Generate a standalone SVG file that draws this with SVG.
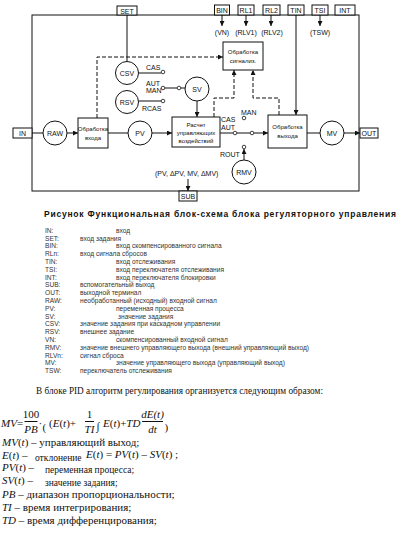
<svg xmlns="http://www.w3.org/2000/svg" width="410" height="534" viewBox="0 0 410 534">
<defs>
<marker id="ah" viewBox="0 0 10 10" refX="10" refY="5" markerWidth="5" markerHeight="5" orient="auto" markerUnits="userSpaceOnUse">
<path d="M0,0 L10,5 L0,10 z" fill="#111"/>
</marker>
<style>
.ln{fill:none;stroke:#111;stroke-width:1}
.ds{fill:none;stroke:#111;stroke-width:1;stroke-dasharray:4 2}
.bx{fill:#fff;stroke:#111;stroke-width:1}
.ct{fill:#fff;stroke:#111;stroke-width:0.8}
.t{font-family:"Liberation Sans",Arial,sans-serif;font-size:7px;fill:#111}
.tc{font-family:"Liberation Sans",Arial,sans-serif;font-size:7px;fill:#111;text-anchor:middle}
.tb{font-family:"Liberation Sans",Arial,sans-serif;font-size:6px;fill:#111;text-anchor:middle}
.cap{font-family:"Liberation Sans",Arial,sans-serif;font-size:8.5px;font-weight:bold;fill:#111}
.lg{font-family:"Liberation Sans",Arial,sans-serif;font-size:6.6px;fill:#333}
.sf{font-family:"Liberation Serif","Times New Roman",serif;font-size:11px;fill:#111}
.ss{font-family:"Liberation Serif","Times New Roman",serif;font-size:9.5px;fill:#111}
.it{font-style:italic}
</style>
</defs>
<rect width="410" height="534" fill="#fff"/>

<g id="frame"><rect x="32" y="15" width="327" height="176" class="ln"/></g>

<g id="connectors">
<path class="ln" d="M127,15 V61.5"/>
<path class="ln" d="M222,15 V26" marker-end="url(#ah)"/>
<path class="ln" d="M246,15 V26" marker-end="url(#ah)"/>
<path class="ln" d="M271,15 V26" marker-end="url(#ah)"/>
<path class="ln" d="M320,15 V26" marker-end="url(#ah)"/>
<path class="ln" d="M296,15 V115" marker-end="url(#ah)"/>
<path class="ds" d="M97,118 V57 H223" marker-end="url(#ah)"/>
<path class="ds" d="M214,117 V98 H234 V70" marker-end="url(#ah)"/>
<path class="ds" d="M279,115 V98 H253 V70" marker-end="url(#ah)"/>
<path class="ln" d="M138.5,73 H161.2"/>
<path class="ln" d="M138.5,101 H161.2"/>
<path class="ln" d="M164.8,88 H177.2 M180.8,88 H185"/>
<path class="ln" d="M197,101 V117" marker-end="url(#ah)"/>
<path class="ln" d="M32,133 H43"/>
<path class="ln" d="M67,133 H78" marker-end="url(#ah)"/>
<path class="ln" d="M108,133 H128"/>
<path class="ln" d="M152,133 H172" marker-end="url(#ah)"/>
<path class="ln" d="M220,133 H233.2 M236.8,133 H250.2"/>
<path class="ln" d="M253.8,133 H268" marker-end="url(#ah)"/>
<path class="ln" d="M244,160 V149" marker-end="url(#ah)"/>
<path class="ln" d="M307,133 H320"/>
<path class="ln" d="M344,133 H360" marker-end="url(#ah)"/>
<path class="ln" d="M188,179 V191" marker-end="url(#ah)"/>
<circle class="ct" cx="163" cy="72" r="1.8"/>
<circle class="ct" cx="163" cy="88" r="1.8"/>
<circle class="ct" cx="163" cy="101" r="1.8"/>
<circle class="ct" cx="179" cy="88" r="1.8"/>
<circle class="ct" cx="235" cy="133" r="1.8"/>
<circle class="ct" cx="252" cy="133" r="1.8"/>
<circle class="ct" cx="244" cy="118" r="1.8"/>
<circle class="ct" cx="244" cy="147" r="1.8"/>
</g>

<g id="terminals">
<g id="SET"><rect class="bx" x="117" y="6" width="20" height="9"/><text class="tc" x="127" y="13.5">SET</text></g>
<g id="BIN"><rect class="bx" x="214.5" y="5" width="15" height="10"/><text class="tc" x="222" y="13">BIN</text></g>
<g id="RL1"><rect class="bx" x="238" y="5" width="16" height="10"/><text class="tc" x="246" y="13">RL1</text></g>
<g id="RL2"><rect class="bx" x="263" y="5" width="17" height="10"/><text class="tc" x="271.5" y="13">RL2</text></g>
<g id="TIN"><rect class="bx" x="288" y="5" width="16" height="10"/><text class="tc" x="296" y="13">TIN</text></g>
<g id="TSI"><rect class="bx" x="312" y="5" width="16" height="10"/><text class="tc" x="320" y="13">TSI</text></g>
<g id="INT"><rect class="bx" x="335" y="5" width="20" height="10"/><text class="tc" x="345" y="13">INT</text></g>
<g id="IN"><rect class="bx" x="13" y="128" width="19" height="10"/><text class="tc" x="22.5" y="136">IN</text></g>
<g id="OUT"><rect class="bx" x="360" y="128" width="18" height="10"/><text class="tc" x="369" y="136">OUT</text></g>
<g id="SUB"><rect class="bx" x="179" y="191" width="18" height="10"/><text class="tc" x="188" y="199">SUB</text></g>
</g>

<g id="sig-labels">
<text class="tc" x="222" y="35">(VN)</text>
<text class="tc" x="246" y="35">(RLV1)</text>
<text class="tc" x="272" y="35">(RLV2)</text>
<text class="tc" x="320" y="35">(TSW)</text>
<text class="t" x="146" y="70">CAS</text>
<text class="t" x="146" y="85.5">AUT</text>
<text class="t" x="146" y="92.5">MAN</text>
<text class="t" x="142" y="111">RCAS</text>
<text class="t" x="221" y="122">CAS</text>
<text class="t" x="221" y="130">AUT</text>
<text class="t" x="241" y="115">MAN</text>
<text class="t" x="220" y="157">ROUT</text>
<text class="t" x="155" y="176" font-size="6.6">(PV, ΔPV, MV, ΔMV)</text>
</g>

<g id="csv"><circle class="bx" cx="127" cy="73" r="11.5"/><text class="tc" x="127" y="75.5">CSV</text></g>
<g id="rsv"><circle class="bx" cx="127" cy="102" r="11.5"/><text class="tc" x="127" y="104.5">RSV</text></g>
<g id="sv"><circle class="bx" cx="197" cy="89" r="12"/><text class="tc" x="197" y="91.5">SV</text></g>
<g id="raw"><circle class="bx" cx="55" cy="133" r="12"/><text class="tc" x="55" y="135.5">RAW</text></g>
<g id="pv"><circle class="bx" cx="140" cy="133" r="12"/><text class="tc" x="140" y="135.5">PV</text></g>
<g id="mv"><circle class="bx" cx="332" cy="133" r="12"/><text class="tc" x="332" y="135.5">MV</text></g>
<g id="rmv"><circle class="bx" cx="244" cy="172" r="12"/><text class="tc" x="244" y="174.5">RMV</text></g>

<g id="alarm"><rect class="bx" x="223" y="42" width="40" height="28"/><text class="tb" x="243" y="54">Обработка</text><text class="tb" x="243" y="63">сигнализ.</text></g>
<g id="inproc"><rect class="bx" x="78" y="118" width="30" height="30"/><text class="tb" x="93" y="131">Обработка</text><text class="tb" x="93" y="140">входа</text></g>
<g id="calc"><rect class="bx" x="172" y="117" width="48" height="30"/><text class="tb" x="196" y="127">Расчет</text><text class="tb" x="196" y="135">управляющих</text><text class="tb" x="196" y="143">воздействий</text></g>
<g id="outproc"><rect class="bx" x="268" y="115" width="39" height="33"/><text class="tb" x="287.5" y="129">Обработка</text><text class="tb" x="287.5" y="138">выхода</text></g>

<text class="cap" x="44" y="217" textLength="352" lengthAdjust="spacing">Рисунок   Функциональная блок-схема блока регуляторного управления</text>

<g id="legend">
<text class="lg" x="45" y="232.8">IN:</text><text class="lg" x="116" y="232.8">вход</text>
<text class="lg" x="45" y="240.6">SET:</text><text class="lg" x="80" y="240.6">вход задания</text>
<text class="lg" x="45" y="248.4">BIN:</text><text class="lg" x="116" y="248.4">вход скомпенсированного сигнала</text>
<text class="lg" x="45" y="256.2">RLn:</text><text class="lg" x="80" y="256.2">вход сигнала сбросов</text>
<text class="lg" x="45" y="264">TIN:</text><text class="lg" x="116" y="264">вход отслеживания</text>
<text class="lg" x="45" y="271.8">TSI:</text><text class="lg" x="116" y="271.8">вход переключателя отслеживания</text>
<text class="lg" x="45" y="279.6">INT:</text><text class="lg" x="116" y="279.6">вход переключателя блокировки</text>
<text class="lg" x="45" y="287.4">SUB:</text><text class="lg" x="80" y="287.4">вспомогательный выход</text>
<text class="lg" x="45" y="295.2">OUT:</text><text class="lg" x="80" y="295.2">выходной терминал</text>
<text class="lg" x="45" y="303">RAW:</text><text class="lg" x="80" y="303">необработанный (исходный) входной сигнал</text>
<text class="lg" x="45" y="310.8">PV:</text><text class="lg" x="116" y="310.8">переменная процесса</text>
<text class="lg" x="45" y="318.6">SV:</text><text class="lg" x="118" y="318.6">значение задания</text>
<text class="lg" x="45" y="326.4">CSV:</text><text class="lg" x="80" y="326.4">значение задания при каскадном управлении</text>
<text class="lg" x="45" y="334.2">RSV:</text><text class="lg" x="80" y="334.2">внешнее задание</text>
<text class="lg" x="45" y="342">VN:</text><text class="lg" x="116" y="342">скомпенсированный входной сигнал</text>
<text class="lg" x="45" y="349.8">RMV:</text><text class="lg" x="80" y="349.8">значение внешнего управляющего выхода (внешний управляющий выход)</text>
<text class="lg" x="45" y="357.6">RLVn:</text><text class="lg" x="80" y="357.6">сигнал сброса</text>
<text class="lg" x="45" y="365.4">MV:</text><text class="lg" x="116" y="365.4">значение управляющего выхода (управляющий выход)</text>
<text class="lg" x="45" y="373.2">TSW:</text><text class="lg" x="80" y="373.2">переключатель отслеживания</text>
</g>

<g id="text-body">
<text class="sf" x="36" y="394" font-size="10" textLength="287" lengthAdjust="spacingAndGlyphs">В блоке PID алгоритм регулирования организуется следующим образом:</text>
<g id="formula">
<text class="sf it" x="1" y="427" font-size="10.5">MV</text>
<text class="sf" x="17" y="427" font-size="10.5">=</text>
<text class="sf" x="31" y="418" font-size="9.5" text-anchor="middle">100</text>
<path class="ln" d="M24.5,421.5 H37.5" stroke-width="0.7"/>
<text class="sf it" x="31" y="433" font-size="9.5" text-anchor="middle">PB</text>
<text class="sf" x="38.5" y="427">·</text>
<text class="sf" x="42.5" y="431" font-size="21">(</text>
<text class="sf" x="49" y="427">(<tspan class="it">E</tspan>(<tspan class="it">t</tspan>)+</text>
<text class="sf" x="89.5" y="418" text-anchor="middle">1</text>
<path class="ln" d="M85,421.5 H94" stroke-width="0.7"/>
<text class="sf it" x="89.5" y="433" text-anchor="middle">TI</text>
<text class="sf" x="96.5" y="430" font-size="15">∫</text>
<text class="sf" x="103" y="427"><tspan class="it">E</tspan>(<tspan class="it">t</tspan>)+<tspan class="it">TD</tspan></text>
<text class="sf it" x="152.5" y="418" text-anchor="middle">dE(t)</text>
<path class="ln" d="M142,421.5 H163" stroke-width="0.7"/>
<text class="sf it" x="152.5" y="433" text-anchor="middle">dt</text>
<text class="sf" x="164.5" y="431" font-size="21">)</text>
</g>
<text class="sf" x="2" y="446"><tspan class="it">MV</tspan>(<tspan class="it">t</tspan>) – управляющий выход;</text>
<text class="sf" x="2" y="459"><tspan class="it">E</tspan>(<tspan class="it">t</tspan>) –</text>
<text class="ss" x="35" y="461">отклонение</text>
<text class="sf" x="86" y="458"><tspan class="it">E</tspan>(<tspan class="it">t</tspan>) = <tspan class="it">PV</tspan>(<tspan class="it">t</tspan>) – <tspan class="it">SV</tspan>(<tspan class="it">t</tspan>) ;</text>
<text class="sf" x="2" y="471"><tspan class="it">PV</tspan>(<tspan class="it">t</tspan>) –</text>
<text class="ss" x="45" y="473">переменная процесса;</text>
<text class="sf" x="2" y="484"><tspan class="it">SV</tspan>(<tspan class="it">t</tspan>) –</text>
<text class="ss" x="45" y="486">значение задания;</text>
<text class="sf" x="2" y="498"><tspan class="it">PB</tspan> – диапазон пропорциональности;</text>
<text class="sf" x="2" y="511"><tspan class="it">TI</tspan> – время интегрирования;</text>
<text class="sf" x="2" y="524"><tspan class="it">TD</tspan> – время дифференцирования;</text>
</g>
</svg>
